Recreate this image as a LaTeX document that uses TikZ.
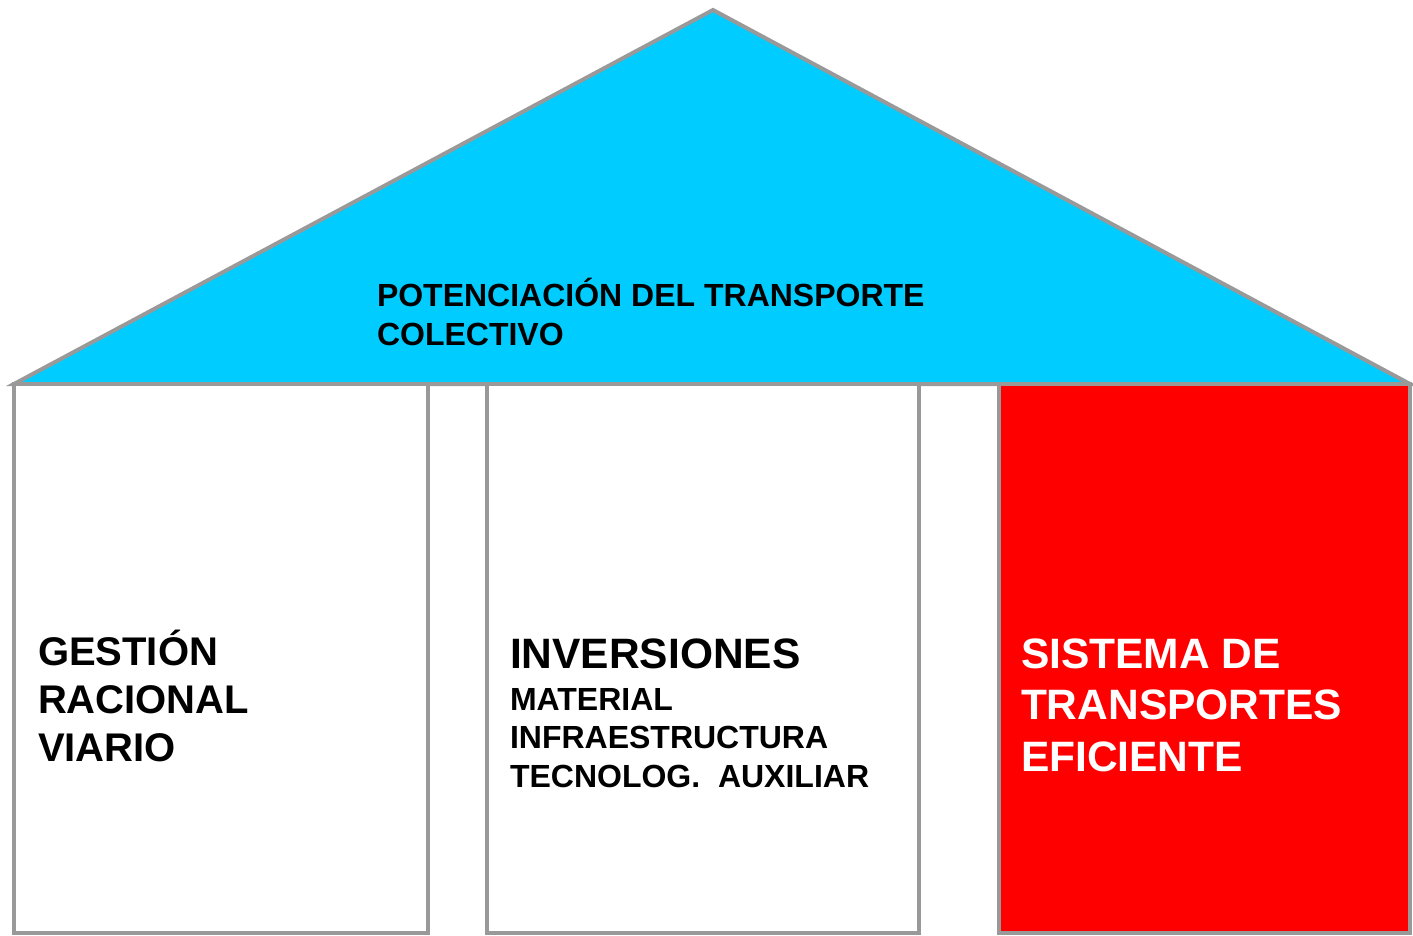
\documentclass[tikz,border=0pt]{standalone}
\usepackage{fontspec}
\setmainfont{Liberation Sans}
\usetikzlibrary{positioning}
\definecolor{techo}{RGB}{0,204,255}
\definecolor{borde}{RGB}{153,153,153}
\definecolor{rojo}{RGB}{255,0,0}

\begin{document}
\begin{tikzpicture}[x=1pt,y=-1pt,line width=4pt,
    pilar/.style={draw=borde,rectangle,inner sep=0pt,minimum width=#1,minimum height=549pt},
    texto/.style={anchor=base west,inner sep=0pt,align=left},
    chico/.style={font=\bfseries\fontsize{32}{38.5}\selectfont},
    grande/.style={font=\bfseries\fontsize{40}{48}\selectfont},
    titulo/.style={font=\bfseries\fontsize{42.5}{51.5}\selectfont}]
  \useasboundingbox (0,0) rectangle (1413,935);
  \coordinate (cumbre) at (713,10);
  \coordinate (aleroI) at (14,384);
  \coordinate (aleroD) at (1410,384);
  \draw[borde,fill=techo] (aleroI) -- (cumbre) -- (aleroD) -- cycle;
  \node[pilar=414pt,fill=white] (gestion) at (221,658.5) {};
  \node[pilar=432pt,fill=white] (inversiones) at (703,658.5) {};
  \node[pilar=411pt,fill=rojo] (sistema) at (1204.5,658.5) {};
  \node[texto,chico] (potenciacion) at (375,345) {POTENCIACIÓN DEL TRANSPORTE\\COLECTIVO};
  \node[texto,grande] (racional) at (36,761) {GESTIÓN\\RACIONAL\\VIARIO};
  \node[texto,titulo] (invtitulo) at (508,668) {INVERSIONES};
  \node[texto,chico] (material) at ([yshift=-119pt]invtitulo.base west) {MATERIAL\\INFRAESTRUCTURA\\TECNOLOG.\ \ AUXILIAR};
  \node[texto,titulo,text=white] (eficiente) at (1019,771) {SISTEMA DE\\TRANSPORTES\\EFICIENTE};
\end{tikzpicture}
\end{document}
